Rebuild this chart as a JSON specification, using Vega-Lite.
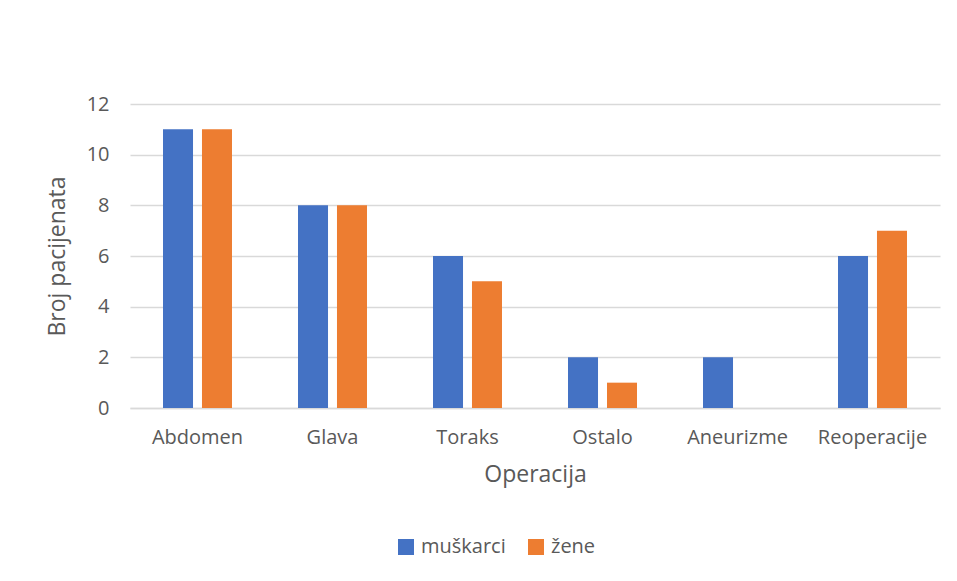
{
  "$schema": "https://vega.github.io/schema/vega-lite/v6.json",
  "autosize": {"type": "none"},
  "padding": {"left": 130, "top": 104, "right": 17, "bottom": 173},
  "width": 810,
  "height": 304,
  "background": "white",
  "config": {
    "view": {"stroke": null},
    "font": "Open Sans",
    "axis": {"labelFont": "Open Sans", "titleFont": "Open Sans", "labelColor": "#595959", "titleColor": "#595959", "titleFontWeight": "normal"},
    "legend": {"labelFont": "Open Sans"}
  },
  "data": {
    "values": [
      {"operacija": "Abdomen", "pol": "muškarci", "broj": 11},
      {"operacija": "Abdomen", "pol": "žene", "broj": 11},
      {"operacija": "Glava", "pol": "muškarci", "broj": 8},
      {"operacija": "Glava", "pol": "žene", "broj": 8},
      {"operacija": "Toraks", "pol": "muškarci", "broj": 6},
      {"operacija": "Toraks", "pol": "žene", "broj": 5},
      {"operacija": "Ostalo", "pol": "muškarci", "broj": 2},
      {"operacija": "Ostalo", "pol": "žene", "broj": 1},
      {"operacija": "Aneurizme", "pol": "muškarci", "broj": 2},
      {"operacija": "Aneurizme", "pol": "žene", "broj": 0},
      {"operacija": "Reoperacije", "pol": "muškarci", "broj": 6},
      {"operacija": "Reoperacije", "pol": "žene", "broj": 7}
    ]
  },
  "mark": {"type": "bar"},
  "encoding": {
    "x": {
      "field": "operacija",
      "type": "nominal",
      "sort": ["Abdomen", "Glava", "Toraks", "Ostalo", "Aneurizme", "Reoperacije"],
      "scale": {"paddingInner": 0.489, "paddingOuter": 0.2445},
      "axis": {
        "title": "Operacija",
        "titleFontSize": 23,
        "titlePadding": 16,
        "labelFontSize": 20,
        "labelAngle": 0,
        "labelPadding": 19,
        "ticks": false,
        "domain": true,
        "domainColor": "#D9D9D9",
        "domainWidth": 1.5
      }
    },
    "xOffset": {
      "field": "pol",
      "type": "nominal",
      "sort": ["muškarci", "žene"],
      "scale": {"paddingInner": 0.23, "paddingOuter": 0}
    },
    "y": {
      "field": "broj",
      "type": "quantitative",
      "scale": {"domain": [0, 12], "nice": false},
      "axis": {
        "title": "Broj pacijenata",
        "titleFontSize": 23,
        "titlePadding": 17,
        "labelFontSize": 20,
        "labelPadding": 21,
        "values": [0, 2, 4, 6, 8, 10, 12],
        "ticks": false,
        "domain": false,
        "grid": true,
        "gridColor": "#D9D9D9",
        "gridWidth": 1.3
      }
    },
    "color": {
      "field": "pol",
      "type": "nominal",
      "sort": ["muškarci", "žene"],
      "scale": {"domain": ["muškarci", "žene"], "range": ["#4472C4", "#ED7D31"]},
      "legend": {
        "title": null,
        "orient": "none",
        "direction": "horizontal",
        "legendX": 266,
        "legendY": 433,
        "symbolType": "square",
        "symbolSize": 256,
        "symbolStrokeWidth": 0,
        "labelFontSize": 20,
        "labelColor": "#595959",
        "columnPadding": 20,
        "labelOffset": 5
      }
    }
  }
}
